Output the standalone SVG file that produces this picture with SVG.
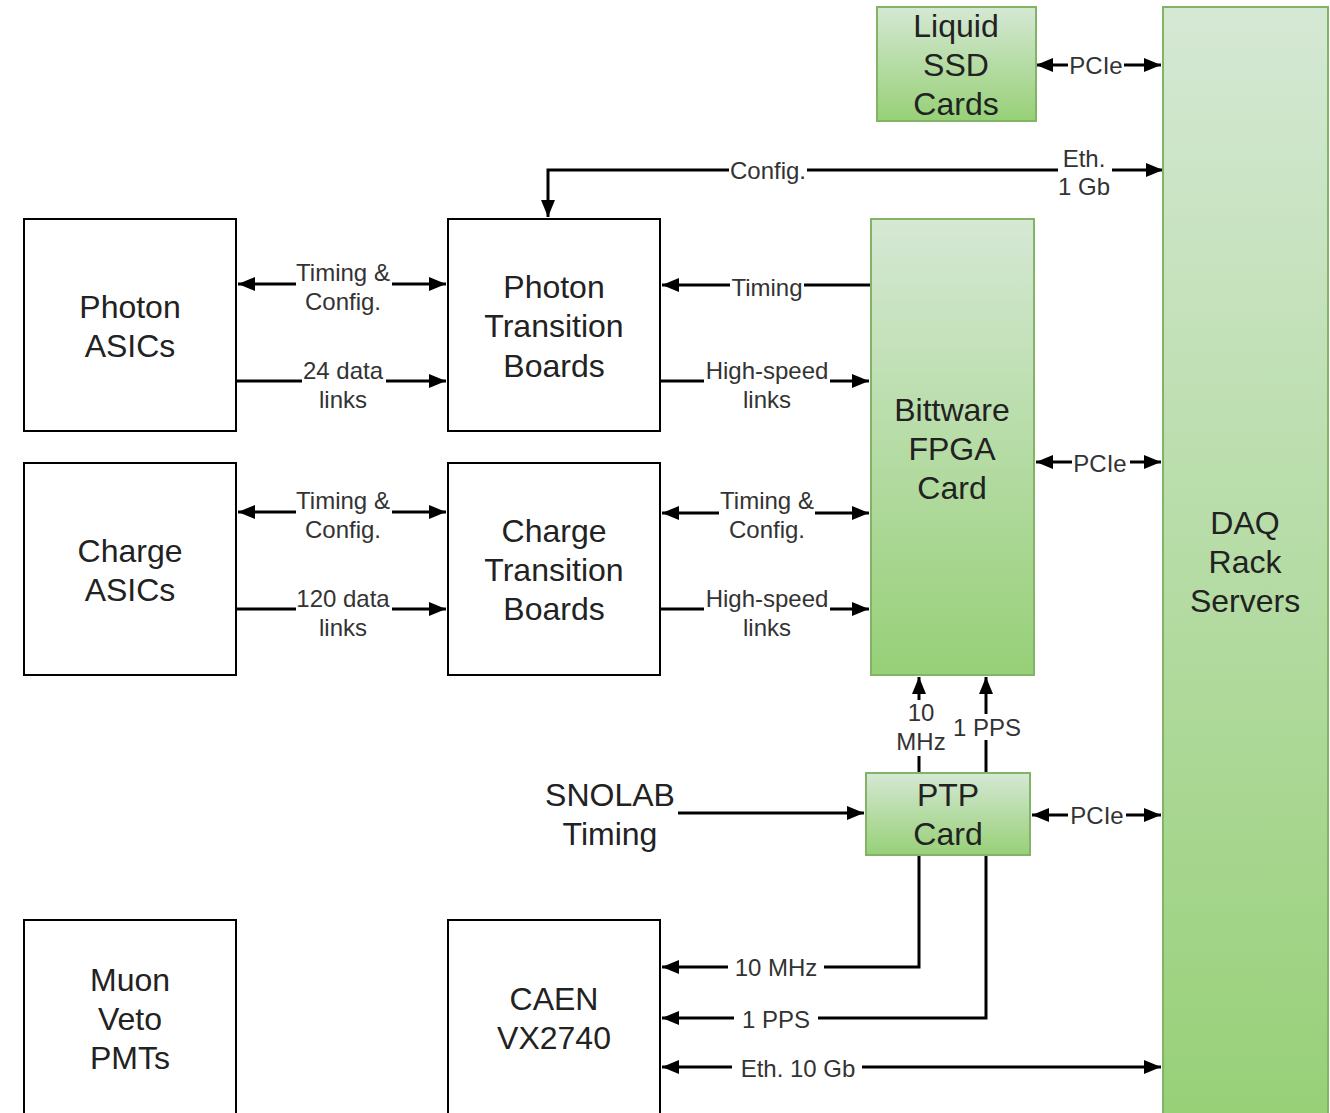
<svg xmlns="http://www.w3.org/2000/svg" width="1330" height="1113" viewBox="0 0 1330 1113">
<defs>
<linearGradient id="g" x1="0" y1="0" x2="0" y2="1"><stop offset="0" stop-color="#d5e8d4"/><stop offset="1" stop-color="#97d077"/></linearGradient>
<marker id="a" markerUnits="userSpaceOnUse" markerWidth="18" markerHeight="14" refX="17" refY="7" orient="auto-start-reverse"><path d="M0,0 L17,7 L0,14 z" fill="#000"/></marker>
<style>
.box{fill:#fff;stroke:#000;stroke-width:2}
.gbox{fill:url(#g);stroke:#82b366;stroke-width:2}
.bt{font-family:"Liberation Sans",Arial,sans-serif;font-size:32px;fill:#222;text-anchor:middle}
.lt{font-family:"Liberation Sans",Arial,sans-serif;font-size:24px;fill:#333;text-anchor:middle}
.c{fill:none;stroke:#000;stroke-width:3}
.bg{fill:#fff}
</style>
</defs>
<g id="connectors">
<path class="c" d="M1036,65 H1161" marker-start="url(#a)" marker-end="url(#a)"/>
<path class="c" d="M1163,170 H548 V217" marker-start="url(#a)" marker-end="url(#a)"/>
<path class="c" d="M238,284 H446" marker-start="url(#a)" marker-end="url(#a)"/>
<path class="c" d="M236,381 H446" marker-end="url(#a)"/>
<path class="c" d="M871,285 H662" marker-end="url(#a)"/>
<path class="c" d="M660,381 H869" marker-end="url(#a)"/>
<path class="c" d="M238,512 H446" marker-start="url(#a)" marker-end="url(#a)"/>
<path class="c" d="M236,609 H446" marker-end="url(#a)"/>
<path class="c" d="M662,513 H869" marker-start="url(#a)" marker-end="url(#a)"/>
<path class="c" d="M660,609 H869" marker-end="url(#a)"/>
<path class="c" d="M1036,462 H1161" marker-start="url(#a)" marker-end="url(#a)"/>
<path class="c" d="M919,773 V677" marker-end="url(#a)"/>
<path class="c" d="M986,773 V677" marker-end="url(#a)"/>
<path class="c" d="M678,813 H864" marker-end="url(#a)"/>
<path class="c" d="M1032,815 H1161" marker-start="url(#a)" marker-end="url(#a)"/>
<path class="c" d="M919,855 V967 H662" marker-end="url(#a)"/>
<path class="c" d="M986,855 V1018 H662" marker-end="url(#a)"/>
<path class="c" d="M662,1067 H1161" marker-start="url(#a)" marker-end="url(#a)"/>
<rect class="bg" x="1068" y="52" width="56" height="26"/>
<text class="lt" x="1096" y="73.5">PCIe</text>
<rect class="bg" x="729" y="157" width="78" height="26"/>
<text class="lt" x="768" y="178.5">Config.</text>
<rect class="bg" x="1058" y="145" width="54" height="54"/>
<text class="lt" x="1084" y="166.5">Eth.</text>
<text class="lt" x="1084" y="195">1 Gb</text>
<rect class="bg" x="296" y="259" width="96" height="54"/>
<text class="lt" x="343" y="280.5">Timing &amp;</text>
<text class="lt" x="343" y="309.5">Config.</text>
<rect class="bg" x="302" y="357" width="84" height="54"/>
<text class="lt" x="343" y="378.5">24 data</text>
<text class="lt" x="343" y="407.5">links</text>
<rect class="bg" x="730" y="274" width="74" height="26"/>
<text class="lt" x="767" y="295.5">Timing</text>
<rect class="bg" x="704" y="357" width="126" height="54"/>
<text class="lt" x="767" y="378.5">High-speed</text>
<text class="lt" x="767" y="407.5">links</text>
<rect class="bg" x="296" y="487" width="96" height="54"/>
<text class="lt" x="343" y="508.5">Timing &amp;</text>
<text class="lt" x="343" y="537.5">Config.</text>
<rect class="bg" x="296" y="585" width="96" height="54"/>
<text class="lt" x="343" y="606.5">120 data</text>
<text class="lt" x="343" y="635.5">links</text>
<rect class="bg" x="719" y="487" width="96" height="54"/>
<text class="lt" x="767" y="508.5">Timing &amp;</text>
<text class="lt" x="767" y="537.5">Config.</text>
<rect class="bg" x="704" y="585" width="126" height="54"/>
<text class="lt" x="767" y="606.5">High-speed</text>
<text class="lt" x="767" y="635.5">links</text>
<rect class="bg" x="1072" y="449" width="58" height="26"/>
<text class="lt" x="1100" y="471.5">PCIe</text>
<rect class="bg" x="895" y="700" width="50" height="56"/>
<text class="lt" x="921" y="720.5">10</text>
<text class="lt" x="921" y="749.5">MHz</text>
<rect class="bg" x="953" y="714" width="68" height="26"/>
<text class="lt" x="987" y="735.5">1 PPS</text>
<rect class="bg" x="1068" y="802" width="58" height="26"/>
<text class="lt" x="1097" y="823.5">PCIe</text>
<rect class="bg" x="728" y="954" width="96" height="26"/>
<text class="lt" x="776" y="975.5">10 MHz</text>
<rect class="bg" x="734" y="1005" width="84" height="26"/>
<text class="lt" x="776" y="1027.5">1 PPS</text>
<rect class="bg" x="732" y="1054" width="130" height="26"/>
<text class="lt" x="798" y="1076.5">Eth. 10 Gb</text>
</g>
<g id="photon-asics"><rect class="box" x="24" y="219" width="212" height="212"/><text class="bt" x="130" y="318">Photon</text><text class="bt" x="130" y="357">ASICs</text></g>
<g id="photon-tb"><rect class="box" x="448" y="219" width="212" height="212"/><text class="bt" x="554" y="298">Photon</text><text class="bt" x="554" y="337">Transition</text><text class="bt" x="554" y="377">Boards</text></g>
<g id="charge-asics"><rect class="box" x="24" y="463" width="212" height="212"/><text class="bt" x="130" y="562">Charge</text><text class="bt" x="130" y="601">ASICs</text></g>
<g id="charge-tb"><rect class="box" x="448" y="463" width="212" height="212"/><text class="bt" x="554" y="542">Charge</text><text class="bt" x="554" y="581">Transition</text><text class="bt" x="554" y="620">Boards</text></g>
<g id="muon"><rect class="box" x="24" y="920" width="212" height="200"/><text class="bt" x="130" y="991">Muon</text><text class="bt" x="130" y="1030">Veto</text><text class="bt" x="130" y="1069">PMTs</text></g>
<g id="caen"><rect class="box" x="448" y="920" width="212" height="200"/><text class="bt" x="554" y="1010">CAEN</text><text class="bt" x="554" y="1049">VX2740</text></g>
<g id="ssd"><rect class="gbox" x="877" y="7" width="159" height="114"/><text class="bt" x="956" y="37">Liquid</text><text class="bt" x="956" y="76">SSD</text><text class="bt" x="956" y="115">Cards</text></g>
<g id="fpga"><rect class="gbox" x="871" y="219" width="163" height="456"/><text class="bt" x="952" y="421">Bittware</text><text class="bt" x="952" y="460">FPGA</text><text class="bt" x="952" y="499">Card</text></g>
<g id="daq"><rect class="gbox" x="1163" y="7" width="165" height="1115"/><text class="bt" x="1245" y="534">DAQ</text><text class="bt" x="1245" y="573">Rack</text><text class="bt" x="1245" y="612">Servers</text></g>
<g id="ptp"><rect class="gbox" x="866" y="773" width="164" height="82"/><text class="bt" x="948" y="806">PTP</text><text class="bt" x="948" y="845">Card</text></g>
<g id="snolab"><text class="bt" x="610" y="806">SNOLAB</text><text class="bt" x="610" y="845">Timing</text></g>
</svg>
